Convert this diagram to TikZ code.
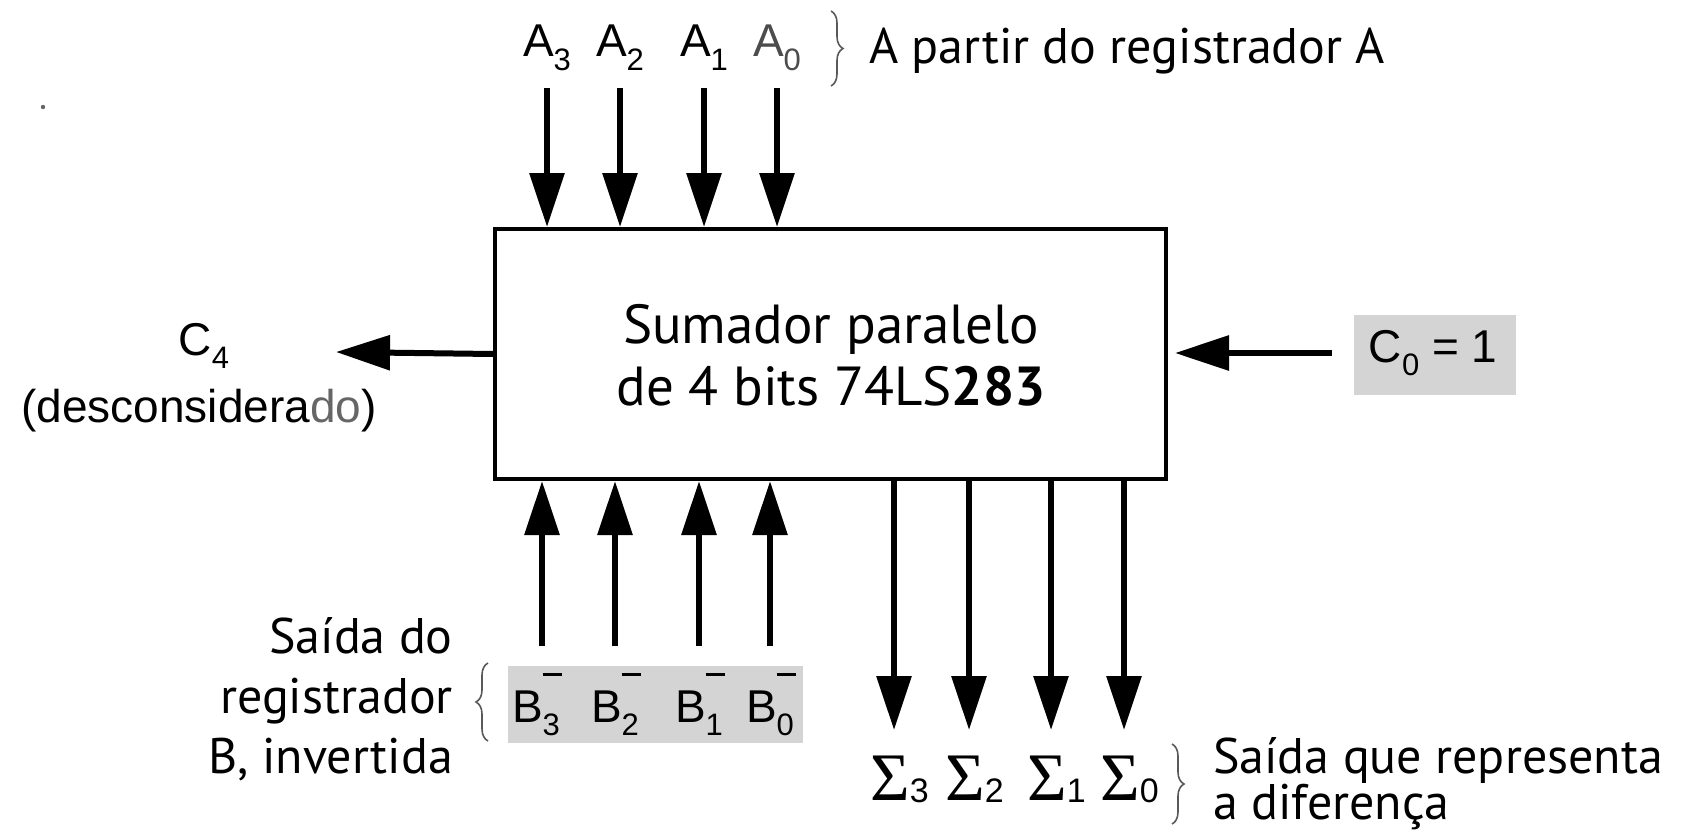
\documentclass[tikz,border=0pt]{standalone}
\usepackage{fontspec}
\setmainfont{Liberation Sans}
\newfontfamily\notefont{PT Sans}
\newfontfamily\greekfont{Liberation Serif}
\usetikzlibrary{arrows.meta,decorations.pathreplacing}

% signal name with a lowered index
\newcommand\sig[2]{#1\raisebox{-0.3em}{\fontsize{31}{31}\selectfont #2}}
% inverted B input: short bar over the index
\newcommand\nsig[1]{B\rlap{\raisebox{1.0em}{\rule{0.42em}{3pt}}}\raisebox{-0.3em}{\fontsize{31}{31}\selectfont #1}}
% sum output, centred on the sigma
\newcommand\sumout[1]{{\greekfont\fontsize{68}{68}\selectfont\symbol{"03A3}}\rlap{\raisebox{-0.06em}{\fontsize{34}{34}\selectfont #1}}}

\begin{document}
\begin{tikzpicture}[x=1pt,y=-1pt,
  wire/.style={line width=6pt,-{Triangle[length=54pt,width=34pt]}},
  pin/.style={font=\fontsize{46}{46}\selectfont,inner sep=0pt},
  note/.style={font=\notefont\fontsize{50}{59}\selectfont,inner sep=0pt},
  curly/.style={decorate,decoration={brace,amplitude=12pt},line width=1.6pt,gray!70!black},
  shade/.style={fill=black!17,draw=none,inner sep=0pt}]
\useasboundingbox (0,0) rectangle (1682,833);

% stray mark
\fill[black!60] (43,107) circle (2.2pt);

% the adder block
\node[draw,line width=4pt,minimum width=671pt,minimum height=250pt,inner sep=0pt,anchor=north west] (box) at (493,227) {};
\node[note,align=center,font=\notefont\fontsize{55}{62}\selectfont] (title) at (831,355)
  {Sumador paralelo\\de 4 bits 74LS\textbf{283}};

% A inputs
\node[pin] (a3) at (547,48) {\sig{A}{3}};
\node[pin] (a2) at (620,48) {\sig{A}{2}};
\node[pin] (a1) at (704,48) {\sig{A}{1}};
\node[pin,text=black!70] (a0) at (777,48) {\sig{A}{0}};
\foreach \n/\x in {a3/547,a2/620,a1/704,a0/777}{
  \coordinate (\n s) at (\x,88);
  \draw[wire] (\n s) -- (\n s |- box.north);
}
\coordinate (abt) at (831,11); \coordinate (abb) at (831,86);
\draw[curly] (abt) -- (abb);
\node[note,anchor=west] (anote) at (869,51) {A partir do registrador A};

% carry out
\coordinate (c4tip) at (336,352);
\draw[wire] (box.west) -- (c4tip);
\node[pin] (c4) at (204,346) {\sig{C}{4}};
\node[pin] (c4note) at (199,411) {(desconsidera\textcolor{black!60}{do})};

% carry in
\node[shade,minimum width=162pt,minimum height=80pt] (c0) at (1435,355) {};
\node[pin] (c0t) at (1433,353) {\sig{C}{0} = 1};
\coordinate (c0s) at (1332,353);
\draw[wire,shorten >=7pt] (c0s) -- (c0s -| box.east);

% inverted B inputs
\node[shade,minimum width=295pt,minimum height=77pt] (bsh) at (655,704) {};
\foreach \n/\x/\i in {b3/536/3,b2/615/2,b1/699/1,b0/770/0}{
  \node[pin,anchor=base] (\n) at (\x,722) {\nsig{\i}};
}
\foreach \n/\x in {b3/542,b2/615,b1/699,b0/770}{
  \coordinate (\n s) at (\x,646);
  \draw[wire] (\n s) -- (\n s |- box.south);
}
\coordinate (bbb) at (488,741); \coordinate (bbt) at (488,663);
\draw[curly] (bbb) -- (bbt);
\node[note,anchor=east,align=right,font=\notefont\fontsize{50}{60}\selectfont] (bnote) at (453,699)
  {Saída do\\registrador\\B, invertida};

% sum outputs
\foreach \n/\x/\i in {s3/894/3,s2/969/2,s1/1051/1,s0/1124/0}{
  \coordinate (\n t) at (\x,730);
  \draw[wire] (\n t |- box.south) -- (\n t);
  \node[pin,anchor=base] (\n) at (\x-4,800) {\sumout{\i}};
}
\coordinate (sbt) at (1172,744); \coordinate (sbb) at (1172,824);
\draw[curly] (sbt) -- (sbb);
\node[note,anchor=base west] (snote1) at (1213,773) {Saída que representa};
\node[note,anchor=base west] (snote2) at (1213,819) {a diferença};
\end{tikzpicture}
\end{document}
